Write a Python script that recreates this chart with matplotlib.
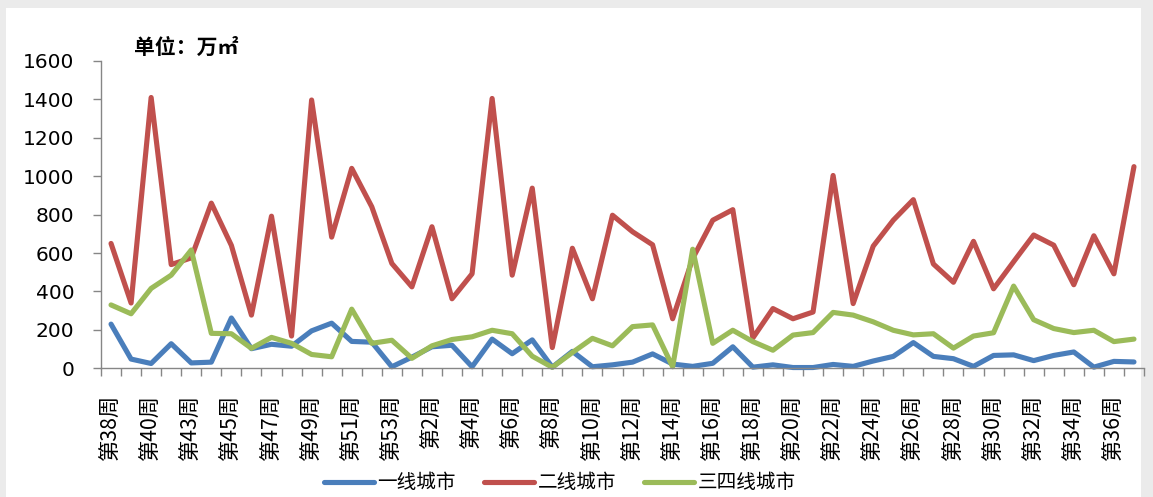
import matplotlib
matplotlib.use("Agg")
import matplotlib.pyplot as plt
from matplotlib.patches import Rectangle
from matplotlib.ticker import FixedLocator, FixedFormatter, NullFormatter

plt.rcParams['font.family'] = ['Noto Sans CJK SC', 'DejaVu Sans']

# Week labels: weeks 38-53 of one year (week 42 absent), then weeks 1-37 of the next
weeks = [38, 39, 40, 41] + list(range(43, 54)) + list(range(1, 38))
categories = [f"第{w}周" for w in weeks]

tier1 = [230, 48, 25, 128, 28, 32, 262, 102, 125, 115,
         195, 235, 140, 136, 8, 58, 112, 120, 8, 152,
         76, 148, 6, 88, 8, 18, 32, 75, 22, 10,
         26, 112, 6, 18, 4, 4, 20, 10, 38, 62,
         134, 62, 50, 10, 67, 70, 40, 67, 85, 6,
         36, 33]

tier2 = [650, 340, 1410, 540, 575, 860, 640, 277, 792, 168,
         1397, 683, 1041, 841, 546, 424, 737, 362, 492, 1405,
         485, 938, 108, 625, 362, 797, 711, 643, 258, 572,
         771, 826, 158, 311, 258, 293, 1004, 337, 636, 771,
         878, 543, 448, 661, 414, 555, 694, 641, 435, 690,
         492, 1050]

tier34 = [330, 284, 416, 485, 616, 182, 180, 104, 161, 130,
          72, 60, 308, 130, 146, 52, 117, 150, 164, 198,
          180, 63, 5, 82, 156, 117, 217, 226, 8, 620,
          130, 198, 139, 94, 173, 186, 291, 277, 242, 198,
          174, 180, 105, 168, 185, 428, 253, 207, 186, 198,
          139, 152]

series = [("一线城市", tier1, "#4A7EBB"),
          ("二线城市", tier2, "#C0504D"),
          ("三四线城市", tier34, "#9BBB59")]

W, H = 1153, 497
fig = plt.figure(figsize=(W / 100, H / 100), dpi=100)
fig.patch.set_facecolor("#EBEBEB")
fig.patches.append(Rectangle((6 / W, 0), 1135 / W, 489 / H, transform=fig.transFigure,
                             facecolor="white", edgecolor="none", zorder=-10))

ax = fig.add_axes([101 / W, (H - 368.3) / H, 1043 / W, 307.3 / H])
ax.set_facecolor("none")

x = list(range(len(categories)))
for name, vals, color in series:
    ax.plot(x, vals, color=color, lw=3.7, label=name, solid_joinstyle="round",
            solid_capstyle="round", clip_on=False)

ax.set_xlim(-0.5, len(categories) - 0.5)
ax.set_ylim(0, 1600)
ax.set_yticks(range(0, 1601, 200))
ax.tick_params(axis="y", direction="out", length=6, width=1, color="#868686",
               pad=13, labelsize=14.5, labelfontfamily="DejaVu Sans")

# category boundaries carry the tick marks, every second category carries a label
ax.xaxis.set_major_locator(FixedLocator([i - 0.5 for i in range(len(categories) + 1)]))
ax.xaxis.set_major_formatter(NullFormatter())
ax.xaxis.set_minor_locator(FixedLocator(x[::2]))
ax.xaxis.set_minor_formatter(FixedFormatter(categories[::2]))
ax.tick_params(axis="x", which="major", direction="out", length=6, width=1, color="#868686")
ax.tick_params(axis="x", which="minor", length=0, pad=19, labelsize=15.3,
               labelrotation=90, labelfontfamily="Noto Sans CJK SC")

for side in ("top", "right"):
    ax.spines[side].set_visible(False)
for side in ("left", "bottom"):
    ax.spines[side].set_color("#868686")
    ax.spines[side].set_linewidth(1)

fig.text(134 / W, 1 - 47 / H, "单位：万㎡", fontsize=15, fontweight="bold",
         va="center", ha="left")

fig.legend(loc="center", bbox_to_anchor=(560 / W, 1 - 483 / H), ncol=3, frameon=False,
           fontsize=14.1, handlelength=2.55, handletextpad=0.2, columnspacing=1.43)

fig.savefig("out.png", dpi=100, facecolor=fig.get_facecolor())
